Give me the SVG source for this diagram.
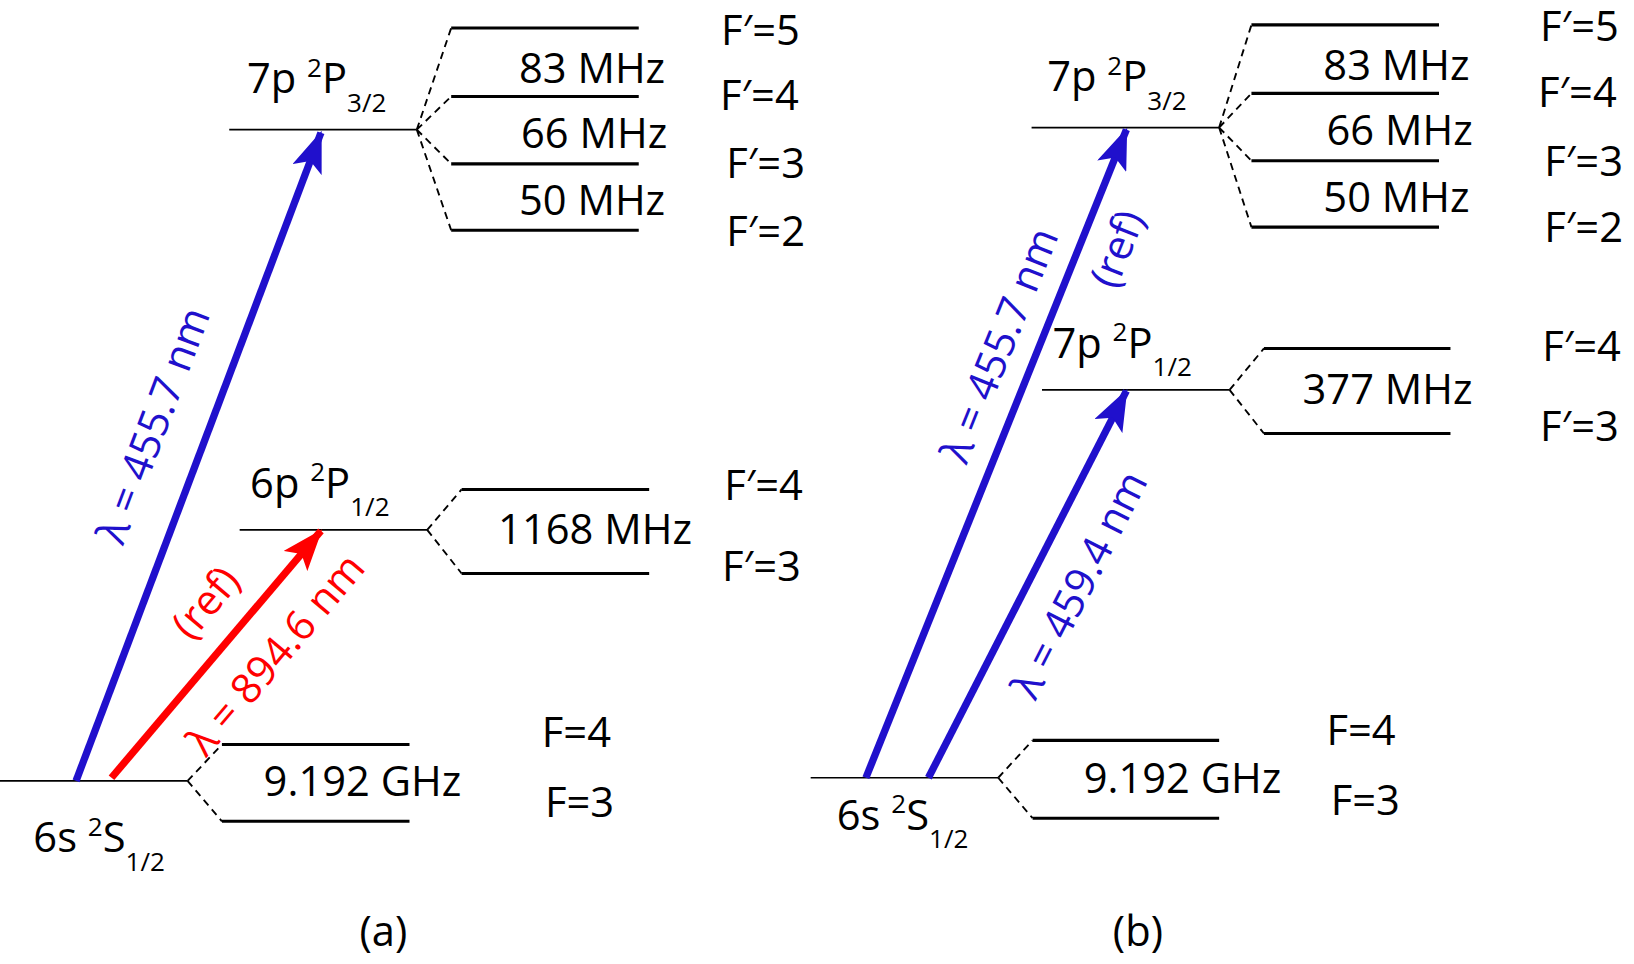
<svg xmlns="http://www.w3.org/2000/svg" width="1634" height="964" viewBox="0 0 1634 964">
<style>
text{font-family:"Open Sans","Noto Sans","Liberation Sans",sans-serif;font-size:40px;fill:#000}
.sub{font-size:25px}
.lv{stroke:#000;stroke-width:1.6;fill:none}
.hf{stroke:#000;stroke-width:3;fill:none}
.ds{stroke:#000;stroke-width:1.8;stroke-dasharray:7 5;fill:none}
.b{fill:#2010cc}
.r{fill:#ff0000}
</style>
<defs>
<marker id="ab" markerUnits="userSpaceOnUse" viewBox="0 0 40 30" refX="38" refY="15" markerWidth="40" markerHeight="30" orient="auto"><path d="M40,15 L0,0 L9,15 L0,30 Z" fill="#2010cc"/></marker>
<marker id="ar" markerUnits="userSpaceOnUse" viewBox="0 0 40 30" refX="38" refY="15" markerWidth="40" markerHeight="30" orient="auto"><path d="M40,15 L0,0 L9,15 L0,30 Z" fill="#ff0000"/></marker>
</defs>
<rect width="1634" height="964" fill="#fff"/>
<g transform="scale(1.042,1.037)">
<g id="a-ground">
<line class="lv" x1="0" y1="753" x2="180" y2="753"/>
<path class="ds" d="M180,753 L213,718 M180,753 L213,792"/>
<line class="hf" x1="213" y1="718" x2="393" y2="718"/>
<line class="hf" x1="213" y1="792" x2="393" y2="792"/>
<text x="253" y="768">9.192 GHz</text>
<text x="520" y="720">F=4</text><text x="523" y="788">F=3</text>
<text x="32" y="822">6s <tspan class="sub" dy="-16">2</tspan><tspan dy="16">S</tspan><tspan class="sub" dy="18">1/2</tspan></text>
</g>
<g id="a-6p">
<line class="lv" x1="230" y1="511" x2="410" y2="511"/>
<path class="ds" d="M410,511 L443,472 M410,511 L443,553"/>
<line class="hf" x1="443" y1="472" x2="623" y2="472"/>
<line class="hf" x1="443" y1="553" x2="623" y2="553"/>
<text x="478" y="525">1168 MHz</text>
<text x="695" y="482">F′=4</text><text x="693" y="560">F′=3</text>
<text x="240" y="480">6p <tspan class="sub" dy="-16">2</tspan><tspan dy="16">P</tspan><tspan class="sub" dy="18">1/2</tspan></text>
</g>
<g id="a-7p">
<line class="lv" x1="220" y1="125" x2="400" y2="125"/>
<path class="ds" d="M400,125 L433,27 M400,125 L433,93 M400,125 L433,158 M400,125 L433,222"/>
<line class="hf" x1="433" y1="27" x2="613" y2="27"/>
<line class="hf" x1="433" y1="93" x2="613" y2="93"/>
<line class="hf" x1="433" y1="158" x2="613" y2="158"/>
<line class="hf" x1="433" y1="222" x2="613" y2="222"/>
<text x="498" y="80">83 MHz</text><text x="500" y="143">66 MHz</text><text x="498" y="207">50 MHz</text>
<text x="692" y="43">F′=5</text><text x="691" y="106">F′=4</text><text x="697" y="172">F′=3</text><text x="697" y="237">F′=2</text>
<text x="237" y="90">7p <tspan class="sub" dy="-16">2</tspan><tspan dy="16">P</tspan><tspan class="sub" dy="18">3/2</tspan></text>
</g>
<g id="b-ground">
<line class="lv" x1="778" y1="750" x2="958" y2="750"/>
<path class="ds" d="M958,750 L991,714 M958,750 L991,789"/>
<line class="hf" x1="991" y1="714" x2="1170" y2="714"/>
<line class="hf" x1="991" y1="789" x2="1170" y2="789"/>
<text x="1040" y="765">9.192 GHz</text>
<text x="1273" y="718">F=4</text><text x="1277" y="786">F=3</text>
<text x="803" y="800">6s <tspan class="sub" dy="-16">2</tspan><tspan dy="16">S</tspan><tspan class="sub" dy="18">1/2</tspan></text>
</g>
<g id="b-7p12">
<line class="lv" x1="1000" y1="376" x2="1180" y2="376"/>
<path class="ds" d="M1180,376 L1213,336 M1180,376 L1213,418"/>
<line class="hf" x1="1213" y1="336" x2="1392" y2="336"/>
<line class="hf" x1="1213" y1="418" x2="1392" y2="418"/>
<text x="1250" y="390">377 MHz</text>
<text x="1480" y="348">F′=4</text><text x="1478" y="425">F′=3</text>
<text x="1010" y="345">7p <tspan class="sub" dy="-16">2</tspan><tspan dy="16">P</tspan><tspan class="sub" dy="18">1/2</tspan></text>
</g>
<g id="b-7p32">
<line class="lv" x1="990" y1="123" x2="1170" y2="123"/>
<path class="ds" d="M1170,123 L1201,24 M1170,123 L1201,90 M1170,123 L1201,155 M1170,123 L1201,219"/>
<line class="hf" x1="1201" y1="24" x2="1381" y2="24"/>
<line class="hf" x1="1201" y1="90" x2="1381" y2="90"/>
<line class="hf" x1="1201" y1="155" x2="1381" y2="155"/>
<line class="hf" x1="1201" y1="219" x2="1381" y2="219"/>
<text x="1270" y="77">83 MHz</text><text x="1273" y="140">66 MHz</text><text x="1270" y="204">50 MHz</text>
<text x="1478" y="40">F′=5</text><text x="1476" y="103">F′=4</text><text x="1482" y="170">F′=3</text><text x="1482" y="233">F′=2</text>
<text x="1005" y="88">7p <tspan class="sub" dy="-16">2</tspan><tspan dy="16">P</tspan><tspan class="sub" dy="18">3/2</tspan></text>
</g>
<g id="connectors">
<line x1="73" y1="753" x2="308" y2="128" stroke="#2010cc" stroke-width="7" marker-end="url(#ab)"/>
<line x1="107" y1="750" x2="308" y2="512" stroke="#ff0000" stroke-width="7" marker-end="url(#ar)"/>
<line x1="831" y1="750" x2="1081" y2="125" stroke="#2010cc" stroke-width="7" marker-end="url(#ab)"/>
<line x1="891" y1="750" x2="1081" y2="377" stroke="#2010cc" stroke-width="7" marker-end="url(#ab)"/>
</g>
<g id="labels">
<text class="b" text-anchor="middle" transform="translate(160,415) rotate(-69.4)">λ = 455.7 nm</text>
<text class="r" text-anchor="middle" transform="translate(275,640) rotate(-49.8)">λ = 894.6 nm</text>
<text class="r" text-anchor="middle" transform="translate(208,590) rotate(-49.8)">(ref)</text>
<text class="b" text-anchor="middle" transform="translate(972,338) rotate(-68.2)">λ = 455.7 nm</text>
<text class="b" text-anchor="middle" transform="translate(1085,245) rotate(-68.2)">(ref)</text>
<text class="b" text-anchor="middle" transform="translate(1048,570) rotate(-63)">λ = 459.4 nm</text>
<text x="345" y="912">(a)</text>
<text x="1068" y="912">(b)</text>
</g>
</g>
</svg>
